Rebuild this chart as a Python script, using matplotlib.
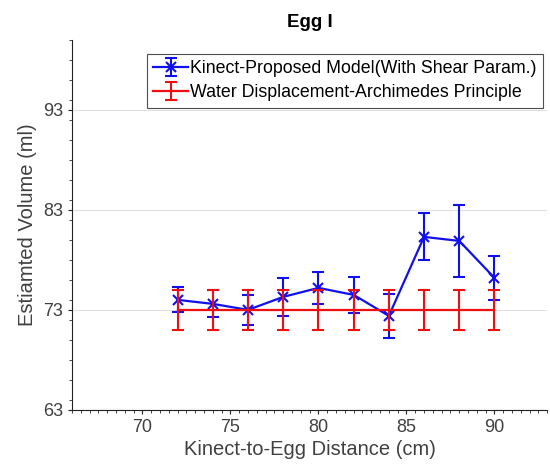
import matplotlib
matplotlib.use("Agg")
import matplotlib.pyplot as plt
from matplotlib.ticker import MultipleLocator

plt.rcParams['font.family'] = ['Liberation Sans', 'DejaVu Sans']

distance = [72, 74, 76, 78, 80, 82, 84, 86, 88, 90]
kinect_vol = [74.0, 73.6, 73.0, 74.3, 75.2, 74.5, 72.4, 80.3, 79.9, 76.2]
kinect_err = [1.25, 1.35, 1.5, 1.9, 1.6, 1.8, 2.2, 2.35, 3.6, 2.2]
water_vol = [73.0] * 10
water_err = [2.0] * 10
yticks = [63, 73, 83, 93]
xticks = [70, 75, 80, 85, 90]

fig = plt.figure(figsize=(5.5, 4.76), dpi=100)
ax = fig.add_axes([0.131, 0.139, 0.864, 0.777])

gray = '#404040'
ax.errorbar(distance, kinect_vol, yerr=kinect_err, color='#1010ee', marker='x',
            markersize=7, mew=1.5, lw=1.6, capsize=4, capthick=1.5, elinewidth=1.5,
            label='Kinect-Proposed Model(With Shear Param.)', zorder=3)
ax.errorbar(distance, water_vol, yerr=water_err, color='#ee1010', lw=1.6,
            capsize=4, capthick=1.5, elinewidth=1.5,
            label='Water Displacement-Archimedes Principle', zorder=4)

ax.set_xlim(66, 93)
ax.set_ylim(63, 100)
ax.set_xticks(xticks)
ax.set_yticks(yticks)
ax.xaxis.set_minor_locator(MultipleLocator(0.5))
ax.yaxis.set_minor_locator(MultipleLocator(2))
ax.grid(axis='y', which='major', color='#e0e0e0', lw=0.8, zorder=0)
ax.set_axisbelow(True)
for s in ['top', 'right']:
    ax.spines[s].set_visible(False)
for s in ['left', 'bottom']:
    ax.spines[s].set_color('#222222')
    ax.spines[s].set_linewidth(0.8)
ax.tick_params(which='major', direction='out', length=3, color='#222222',
               labelsize=13, labelcolor=gray)
ax.tick_params(which='minor', direction='out', length=2, color='#222222')

ax.set_xlabel('Kinect-to-Egg Distance (cm)', fontsize=14.5, color=gray, labelpad=3)
ax.set_ylabel('Estiamted Volume (ml)', fontsize=14.5, color=gray, labelpad=4)
ax.set_title('Egg I', fontsize=13.5, fontweight='bold', pad=9)

leg = ax.legend(loc='upper right', bbox_to_anchor=(0.991, 0.962), fontsize=12.8,
                frameon=True, fancybox=False, edgecolor='#222222',
                handlelength=2.0, handletextpad=0.1, borderpad=0.35,
                labelspacing=0.4, borderaxespad=0)
leg.get_frame().set_linewidth(0.8)

fig.savefig('out.png', dpi=100)
